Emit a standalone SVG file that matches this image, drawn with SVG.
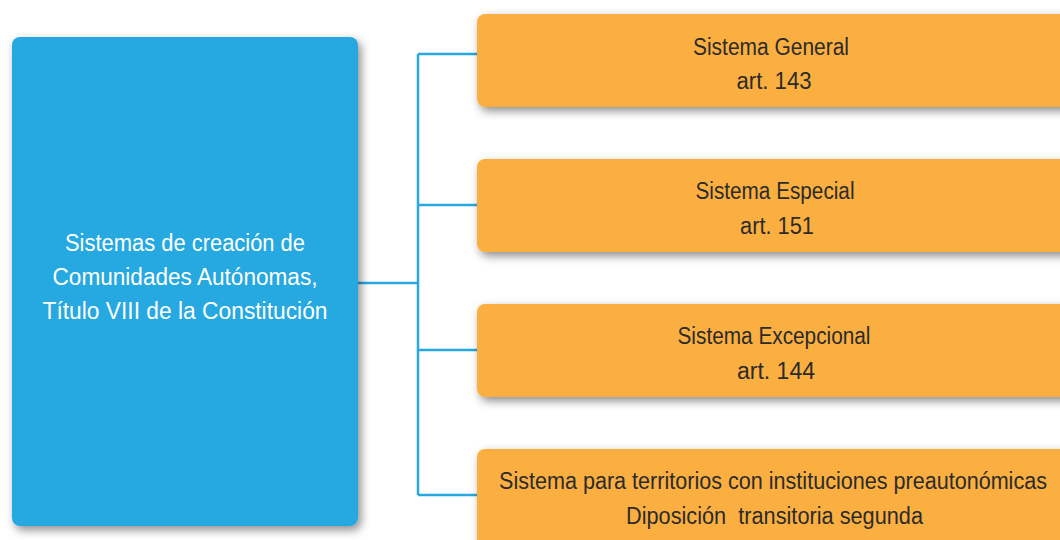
<svg xmlns="http://www.w3.org/2000/svg" width="1060" height="540" viewBox="0 0 1060 540">
<style>
.blue{fill:#27a8e0}
.orange{fill:#fbaf41}
.t{font-family:"Liberation Sans Narrow","Liberation Sans",Arial,sans-serif;font-size:23px;text-anchor:middle}
.tw{fill:#ffffff}
.td{fill:#2b2b2b}
.conn{stroke:#27a8e0;stroke-width:2.5;fill:none}
</style>
<defs>
<filter id="sh" x="-10%" y="-10%" width="130%" height="130%">
<feDropShadow dx="3" dy="4" stdDeviation="5" flood-color="#000" flood-opacity="0.45"/>
</filter>
</defs>
<rect width="1060" height="540" fill="#ffffff"/>
<g id="connectors">
<path class="conn" d="M358 283 H418 M418 54 V495 M418 54 H477 M418 205 H477 M418 350 H477 M418 495 H477"/>
</g>
<g id="node-main">
<rect class="blue" x="12" y="37" width="346" height="489" rx="8" filter="url(#sh)"/>
<text class="t tw" x="185" y="251" textLength="240" lengthAdjust="spacingAndGlyphs">Sistemas de creación de</text>
<text class="t tw" x="185" y="285" textLength="265" lengthAdjust="spacingAndGlyphs">Comunidades Autónomas,</text>
<text class="t tw" x="185" y="319" textLength="285" lengthAdjust="spacingAndGlyphs">Título VIII de la Constitución</text>
</g>
<g id="node-general">
<rect class="orange" x="477" y="14" width="600" height="93" rx="8" filter="url(#sh)"/>
<text class="t td" x="771" y="55" textLength="156" lengthAdjust="spacingAndGlyphs">Sistema General</text>
<text class="t td" x="774" y="89" textLength="75" lengthAdjust="spacingAndGlyphs">art. 143</text>
</g>
<g id="node-especial">
<rect class="orange" x="477" y="159" width="600" height="93" rx="8" filter="url(#sh)"/>
<text class="t td" x="775" y="199" textLength="159" lengthAdjust="spacingAndGlyphs">Sistema Especial</text>
<text class="t td" x="777" y="234" textLength="74" lengthAdjust="spacingAndGlyphs">art. 151</text>
</g>
<g id="node-excepcional">
<rect class="orange" x="477" y="304" width="600" height="93" rx="8" filter="url(#sh)"/>
<text class="t td" x="774" y="344" textLength="193" lengthAdjust="spacingAndGlyphs">Sistema Excepcional</text>
<text class="t td" x="776" y="379" textLength="78" lengthAdjust="spacingAndGlyphs">art. 144</text>
</g>
<g id="node-preautonomicas">
<rect class="orange" x="477" y="449" width="600" height="110" rx="8" filter="url(#sh)"/>
<text class="t td" x="773" y="489" textLength="548" lengthAdjust="spacingAndGlyphs">Sistema para territorios con instituciones preautonómicas</text>
<text class="t td" x="774.5" y="524" textLength="297" lengthAdjust="spacingAndGlyphs" xml:space="preserve">Diposición  transitoria segunda</text>
</g>
</svg>
